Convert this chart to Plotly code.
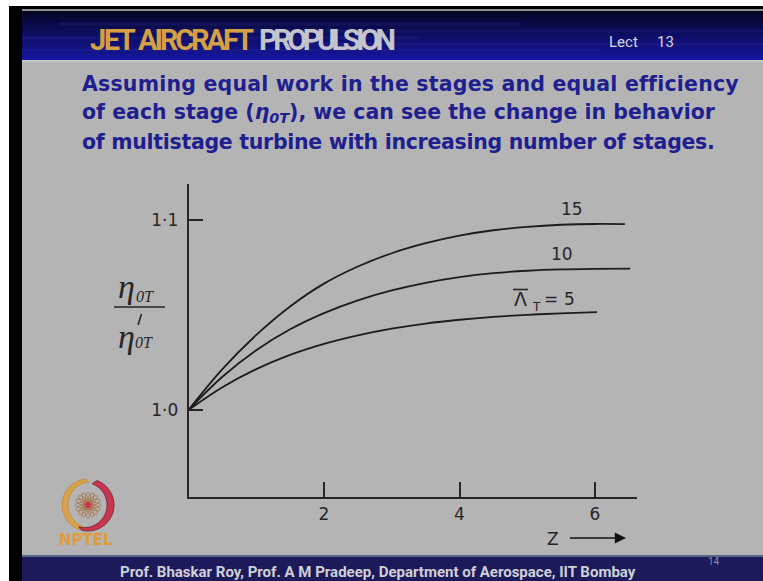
import math
import plotly.graph_objects as go

W, H = 763, 581

# ---- data: efficiency ratio vs number of stages for three stage loadings ----
z_15 = [0, 0.5, 1.0, 1.5, 2.0, 2.5, 3.0, 3.5, 4.0, 4.5, 5.0, 5.5, 6.0, 6.44]
eff_15 = [1.000, 1.0215, 1.0395, 1.0545, 1.0665, 1.0755, 1.0825, 1.0878, 1.0918,
          1.0946, 1.0964, 1.0975, 1.0979, 1.0978]

z_10 = [0, 0.5, 1.0, 1.5, 2.0, 2.5, 3.0, 3.5, 4.0, 4.5, 5.0, 5.5, 6.0, 6.52]
eff_10 = [1.000, 1.0175, 1.0315, 1.0425, 1.0510, 1.0577, 1.0629, 1.0669, 1.0699,
          1.0720, 1.0733, 1.0740, 1.0743, 1.0744]

z_5 = [0, 0.5, 1.0, 1.5, 2.0, 2.5, 3.0, 3.5, 4.0, 4.5, 5.0, 5.5, 6.03]
eff_5 = [1.000, 1.0120, 1.0215, 1.0290, 1.0348, 1.0393, 1.0428, 1.0455, 1.0475,
         1.0490, 1.0501, 1.0509, 1.0515]

x_ticks = [2, 4, 6]
x_tick_labels = ["2", "4", "6"]
y_ticks = [1.0, 1.1]
y_tick_labels = ["1·0", "1·1"]
stage_labels = ["15", "10", "5"]


def px(x):
    return x / W


def py(y):
    return 1 - y / H


def path(points, close=True):
    s = "M " + " L ".join(f"{px(x):.5f},{py(y):.5f}" for x, y in points)
    return s + (" Z" if close else "")


INK = "#262626"
SLIDE = "#b4b4b4"

fig = go.Figure()

for zs, ys in [(z_15, eff_15), (z_10, eff_10), (z_5, eff_5)]:
    fig.add_trace(go.Scatter(
        x=zs, y=ys, mode="lines",
        line=dict(color="#1c1c1c", width=1.8, shape="spline", smoothing=1.0),
        hoverinfo="skip", showlegend=False,
    ))

shapes = []
# page frame: white outer edge, black strip, slide background
shapes.append(dict(type="rect", xref="paper", yref="paper", x0=0, x1=1, y0=0, y1=1,
                   fillcolor="white", line_width=0, layer="below"))
shapes.append(dict(type="rect", xref="paper", yref="paper", x0=px(9), x1=1, y0=0, y1=py(6),
                   fillcolor="black", line_width=0, layer="below"))
shapes.append(dict(type="rect", xref="paper", yref="paper", x0=px(22), x1=1, y0=py(555), y1=py(61),
                   fillcolor=SLIDE, line_width=0, layer="below"))

# header band with dark-to-blue gradient
shapes.append(dict(type="rect", xref="paper", yref="paper", x0=px(22), x1=1, y0=py(11), y1=py(9),
                   fillcolor="#8c8c8c", line_width=0, layer="below"))
n_band = 25
top_c, bot_c = (6, 6, 34), (22, 22, 160)
for i in range(n_band):
    t = (i / (n_band - 1)) ** 0.9
    c = tuple(int(a + (b - a) * t) for a, b in zip(top_c, bot_c))
    y0 = 11 + i * (49 / n_band)
    shapes.append(dict(type="rect", xref="paper", yref="paper", x0=px(22), x1=1,
                       y0=py(y0 + 49 / n_band + 0.5), y1=py(y0),
                       fillcolor=f"rgb{c}", line_width=0, layer="below"))
# faint horizontal streaks in header
for yy, x0, x1, op in [(24, 60, 520, 0.12), (31, 140, 763, 0.1), (38, 22, 420, 0.1),
                       (44, 300, 763, 0.12), (50, 22, 600, 0.1)]:
    shapes.append(dict(type="line", xref="paper", yref="paper", x0=px(x0), x1=px(x1),
                       y0=py(yy), y1=py(yy), line=dict(color=f"rgba(80,90,220,{op})", width=3),
                       layer="below"))
shapes.append(dict(type="rect", xref="paper", yref="paper", x0=px(22), x1=1, y0=py(62), y1=py(60),
                   fillcolor="#c6c6cc", line_width=0, layer="below"))

# footer band
shapes.append(dict(type="rect", xref="paper", yref="paper", x0=px(22), x1=1, y0=py(557), y1=py(555),
                   fillcolor="#56678a", line_width=0, layer="below"))
shapes.append(dict(type="rect", xref="paper", yref="paper", x0=px(22), x1=1, y0=0, y1=py(557),
                   fillcolor="#1d1a5c", line_width=0, layer="below"))

# fraction bar and prime of the y-axis label
shapes.append(dict(type="line", xref="paper", yref="paper", x0=px(114), x1=px(165),
                   y0=py(307), y1=py(307), line=dict(color=INK, width=1.6)))
shapes.append(dict(type="line", xref="paper", yref="paper", x0=px(141.5), x1=px(138),
                   y0=py(314), y1=py(325), line=dict(color=INK, width=1.6)))

# overbar on the Lambda symbol
shapes.append(dict(type="line", xref="paper", yref="paper", x0=px(513), x1=px(528),
                   y0=py(289.5), y1=py(289.5), line=dict(color=INK, width=1.6)))

# NPTEL emblem
cx, cy = 88, 505


def arc(cxx, cyy, r, a0, a1, n=40):
    return [(cxx + r * math.cos(math.radians(a0 + (a1 - a0) * k / n)),
             cyy - r * math.sin(math.radians(a0 + (a1 - a0) * k / n))) for k in range(n + 1)]


left = arc(cx, cy, 26, 95, 250) + arc(cx + 3, cy, 23, 250, 95)
right = arc(cx, cy, 26, -105, 70) + arc(cx - 3.5, cy, 22.5, 70, -105)
shapes.append(dict(type="path", xref="paper", yref="paper", path=path(left),
                   fillcolor="#d9a24a", line=dict(color="#b07a30", width=0.5)))
shapes.append(dict(type="path", xref="paper", yref="paper", path=path(right),
                   fillcolor="#c8354f", line=dict(color="#7a1e30", width=0.8)))
for k in range(8):
    th = math.radians(k * 22.5)
    pts = []
    for j in range(37):
        u = math.radians(j * 10)
        ex, ey = 13 * math.cos(u), 3.2 * math.sin(u)
        pts.append((cx + ex * math.cos(th) - ey * math.sin(th),
                    cy - (ex * math.sin(th) + ey * math.cos(th))))
    shapes.append(dict(type="path", xref="paper", yref="paper", path=path(pts),
                       fillcolor="rgba(0,0,0,0)", line=dict(color="#a8744a", width=0.9)))
shapes.append(dict(type="circle", xref="paper", yref="paper", x0=px(cx - 3), x1=px(cx + 3),
                   y0=py(cy + 3), y1=py(cy - 3), fillcolor="#c8354f", line_width=0))

ann = []


def text(x, y, s, size, color=INK, family="DejaVu Sans", xanchor="center", **kw):
    ann.append(dict(x=px(x), y=py(y), xref="paper", yref="paper", text=s, showarrow=False,
                    xanchor=xanchor, yanchor="middle",
                    font=dict(size=size, color=color, family=family), **kw))


# header texts: one word per annotation, tightly tracked
title_font = "Roboto, DejaVu Sans, sans-serif"
for xx, word, col, sp in [(88, "JET", "#d5a043", "-2.5px"),
                          (136, "AIRCRAFT", "#d5a043", "-3.1px"),
                          (257, "PROPULSION", "#c4c4cc", "-4.5px")]:
    text(xx, 40, f"<b><span style='letter-spacing:{sp}'>{word}</span></b>", 29,
         color=col, family=title_font, xanchor="left")
text(607, 42, "Lect", 15, color="#d6d6dc", family=title_font, xanchor="left")
text(655, 42, "13", 15, color="#d6d6dc", family=title_font, xanchor="left")

# paragraph
BLUE = "#1f1f8f"
para = ["Assuming equal work in the stages and equal efficiency",
        "of each stage (<i>η<sub>0T</sub></i>), we can see the change in behavior",
        "of multistage turbine with increasing number of stages."]
para_spacing = ["0.2px", "0px", "-0.3px"]
for yy, line, sp in zip([84, 113, 142], para, para_spacing):
    text(80, yy, f"<b><span style='letter-spacing:{sp}'>" + line + "</span></b>", 20.5,
         color=BLUE, xanchor="left")

# footer
text(378, 572, "<b>Prof. Bhaskar Roy, Prof. A M Pradeep, "
     "Department of Aerospace, IIT Bombay</b>", 15, color="#d0d0d6", family=title_font)
text(714, 561, "14", 10, color="#8a8aa0", family=title_font)

# NPTEL caption
text(86, 540, "<b>NPTEL</b>", 15, color="#e39a3c")

# y-axis label as a fraction
serif = "Liberation Serif, DejaVu Serif, serif"
text(126, 287, "<i>η</i>", 34, family=serif)
text(145, 296, "<i>0T</i>", 16, family=serif)
text(126, 336, "<i>η</i>", 34, family=serif)
text(144, 342, "<i>0T</i>", 16, family=serif)

# curve labels
text(572, 209, stage_labels[0], 17)
text(562, 254, stage_labels[1], 17)
text(520, 299, "Λ", 19)
text(536, 307, "T", 12)
text(551, 299, "=", 17)
text(569, 299, stage_labels[2], 17)

# Z axis caption with arrow
text(553, 539, "Z", 17)
ann.append(dict(x=px(626), y=py(538), xref="paper", yref="paper", text=" ", showarrow=True,
                ax=-58, ay=0, arrowhead=2, arrowsize=1.6, arrowwidth=1.4, arrowcolor="#111",
                font=dict(size=4)))

x_left, x_right = 188.5, 637
y_top, y_bot = 184, 497
x_unit = 67.75
y_unit = 1900

fig.update_layout(
    width=W, height=H,
    margin=dict(l=0, r=0, t=0, b=0, pad=0),
    paper_bgcolor=SLIDE, plot_bgcolor="rgba(0,0,0,0)",
    showlegend=False,
    shapes=shapes, annotations=ann,
    xaxis=dict(domain=[px(x_left), px(x_right)],
               range=[0, (x_right - x_left) / x_unit],
               showgrid=False, zeroline=False,
               showline=True, linecolor=INK, linewidth=1.6,
               ticks="inside", ticklen=15, tickwidth=1.6, tickcolor=INK,
               tickvals=x_ticks, ticktext=x_tick_labels,
               ticklabelstandoff=1,
               tickfont=dict(size=17, color=INK, family="DejaVu Sans")),
    yaxis=dict(domain=[py(y_bot), py(y_top)],
               range=[1 - (y_bot - 410) / y_unit, 1 + (410 - y_top) / y_unit],
               showgrid=False, zeroline=False,
               showline=True, linecolor=INK, linewidth=1.6,
               ticks="inside", ticklen=15, tickwidth=1.6, tickcolor=INK,
               tickvals=y_ticks, ticktext=y_tick_labels,
               ticklabelstandoff=5,
               tickfont=dict(size=17, color=INK, family="DejaVu Sans")),
)

fig.write_html("out.html")
